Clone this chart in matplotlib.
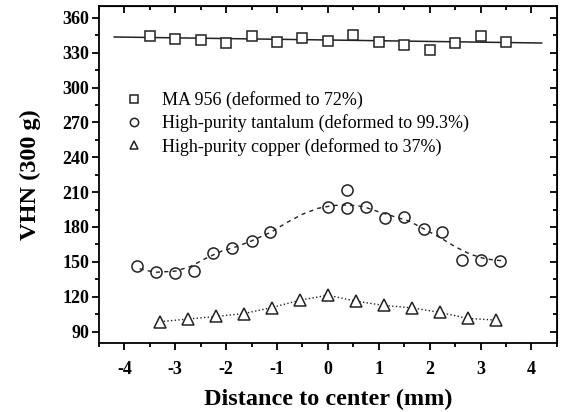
import matplotlib
matplotlib.use("Agg")
import matplotlib.pyplot as plt
from matplotlib.ticker import MultipleLocator

plt.rcParams['font.family'] = ['Liberation Serif', 'DejaVu Serif']
plt.rcParams['axes.unicode_minus'] = False

# MA 956 (squares) and linear fit line
ma_x = [-3.5, -3.0, -2.5, -2.0, -1.5, -1.0, -0.5, 0.0, 0.5, 1.0, 1.5, 2.0, 2.5, 3.0, 3.5]
ma_y = [344, 342, 341, 338, 344, 339, 343, 340, 345, 339, 337, 332, 338, 344, 339]
ma_fit_x = [-4.2, 4.2]
ma_fit_y = [343.5, 338.3]

# High-purity tantalum (circles) and fitted curve
ta_x = [-3.75, -3.38, -3.0, -2.63, -2.25, -1.88, -1.5, -1.13, 0.0, 0.38, 0.38,
        0.75, 1.13, 1.5, 1.88, 2.25, 2.63, 3.0, 3.38]
ta_y = [146, 141, 140, 142, 158, 162, 168, 176, 197, 212, 196,
        197, 188, 189, 178, 176, 152, 152, 151]
ta_fit_x = [-3.7, -3.4, -3.0, -2.7, -2.4, -2.1, -1.8, -1.5, -1.1, -0.8, -0.5, -0.2,
            0.1, 0.4, 0.7, 1.0, 1.3, 1.6, 1.9, 2.2, 2.5, 2.8, 3.1, 3.4]
ta_fit_y = [144, 141, 142, 146, 153, 159, 163, 168, 176, 184, 191, 196,
            198.5, 199, 197.5, 193, 189, 185, 178, 171, 163, 156.5, 152.5, 151]

# High-purity copper (triangles)
cu_x = [-3.3, -2.75, -2.2, -1.65, -1.1, -0.55, 0.0, 0.55, 1.1, 1.65, 2.2, 2.75, 3.3]
cu_y = [98.5, 100.8, 103, 105.5, 110.7, 117, 121.3, 116.2, 112.5, 110.4, 106.5, 101.3, 99.9]

labels = ["MA 956 (deformed to 72%)",
          "High-purity tantalum (deformed to 99.3%)",
          "High-purity copper (deformed to 37%)"]

fig = plt.figure(figsize=(5.62, 4.12), dpi=100)
ax = fig.add_axes([0.176, 0.167, 0.815, 0.818])

ax.plot(ma_fit_x, ma_fit_y, '-', color='#222222', lw=1.1)
ax.plot(ta_fit_x, ta_fit_y, '--', color='#222222', lw=1.0, dashes=(3, 3))
ax.plot(cu_x, cu_y, ':', color='#222222', lw=1.0)

h1, = ax.plot(ma_x, ma_y, 's', ms=7, mfc='white', mec='#222222', mew=1.1, ls='none')
h2, = ax.plot(ta_x, ta_y, 'o', ms=8, mfc='none', mec='#222222', mew=1.1, ls='none')
h3, = ax.plot(cu_x, cu_y, '^', ms=8, mfc='white', mec='#222222', mew=1.1, ls='none')

leg = ax.legend([h1, h2, h3], labels, loc='upper left', bbox_to_anchor=(0.054, 0.748),
                frameon=False, fontsize=13, markerscale=0.75, handlelength=1.2,
                handletextpad=0.95, labelspacing=0.3, borderaxespad=0, borderpad=0)

ax.set_xlim(-4.5, 4.5)
ax.set_ylim(80, 370)
ax.xaxis.set_major_locator(MultipleLocator(1))
ax.xaxis.set_minor_locator(MultipleLocator(0.5))
ax.yaxis.set_major_locator(MultipleLocator(30))
ax.yaxis.set_minor_locator(MultipleLocator(15))
ax.tick_params(which='both', direction='out', width=1.3)
ax.tick_params(which='major', length=5, labelsize=13)
ax.tick_params(which='minor', length=3)
ax.tick_params(axis='x', which='major', pad=8)
ax.tick_params(axis='y', which='major', pad=2)
for lab in ax.get_xticklabels() + ax.get_yticklabels():
    lab.set_fontweight('bold')

# mirrored inward ticks on top and right
sx = ax.secondary_xaxis('top')
sx.xaxis.set_major_locator(MultipleLocator(1))
sx.xaxis.set_minor_locator(MultipleLocator(0.5))
sx.tick_params(which='both', direction='in', labeltop=False, width=1.3)
sx.tick_params(which='major', length=5)
sx.tick_params(which='minor', length=3)
sy = ax.secondary_yaxis('right')
sy.yaxis.set_major_locator(MultipleLocator(30))
sy.yaxis.set_minor_locator(MultipleLocator(15))
sy.tick_params(which='both', direction='in', labelright=False, width=1.3)
sy.tick_params(which='major', length=5)
sy.tick_params(which='minor', length=3)

for s in ax.spines.values():
    s.set_linewidth(1.3)

ax.set_xlabel('Distance to center (mm)', fontsize=17.5, fontweight='bold', labelpad=8)
ax.set_ylabel('VHN (300 g)', fontsize=17.5, fontweight='bold', labelpad=15)

fig.savefig('out.png', dpi=100)
